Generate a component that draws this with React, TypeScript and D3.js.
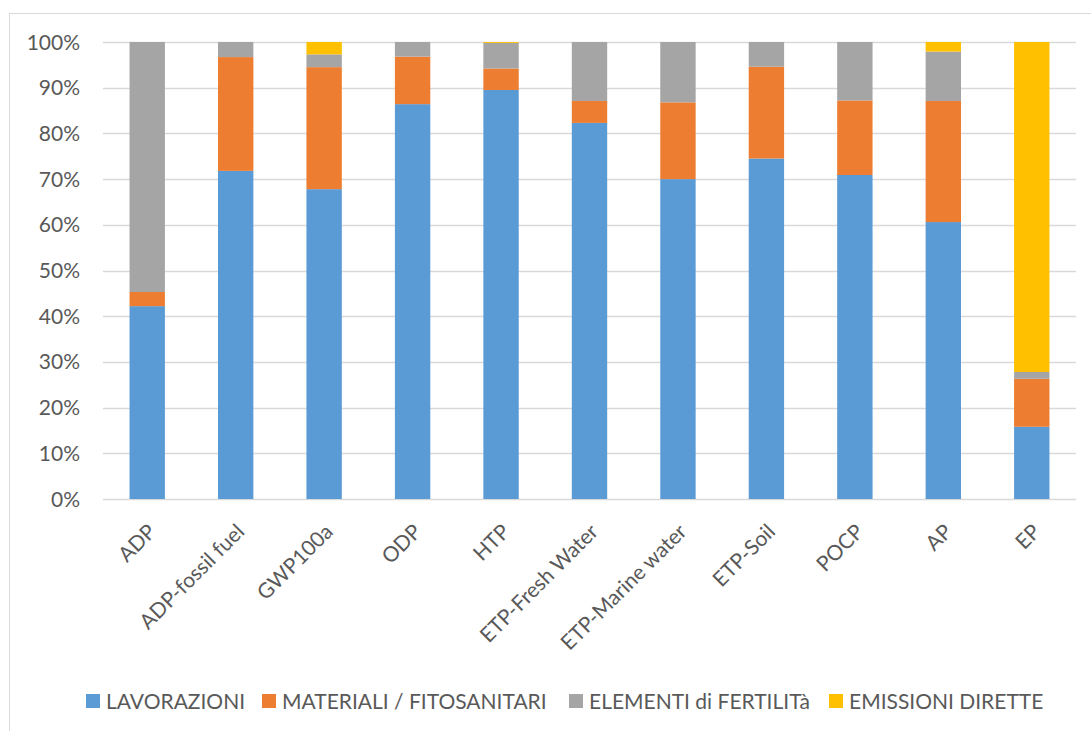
import React, { useRef, useEffect } from 'react';
import * as d3 from 'd3';

const categories = ['ADP', 'ADP-fossil fuel', 'GWP100a', 'ODP', 'HTP', 'ETP-Fresh Water', 'ETP-Marine water', 'ETP-Soil', 'POCP', 'AP', 'EP'];
const seriesNames = ['LAVORAZIONI', 'MATERIALI / FITOSANITARI', 'ELEMENTI di FERTILITà', 'EMISSIONI DIRETTE'];
const lavorazioni = [42.2, 71.8, 67.8, 86.4, 89.5, 82.3, 70.0, 74.5, 70.9, 60.6, 15.8];
const materiali = [3.1, 24.9, 26.7, 10.4, 4.7, 4.8, 16.8, 20.1, 16.3, 26.5, 10.5];
const elementi = [54.7, 3.3, 2.8, 3.2, 5.6, 12.9, 13.2, 5.4, 12.8, 10.8, 1.5];
const emissioni = [0, 0, 2.7, 0, 0.2, 0, 0, 0, 0, 2.1, 72.2];
const yTicks = [0, 10, 20, 30, 40, 50, 60, 70, 80, 90, 100];
const colors = ['#5B9BD5', '#ED7D31', '#A5A5A5', '#FFC000'];

const FONT = 'Lato, "Open Sans", sans-serif';

const App = () => {
    const ref = useRef<SVGSVGElement>(null);

    useEffect(() => {
        const svg = d3.select(ref.current)
            .attr('width', 1091)
            .attr('height', 731);

        svg.selectAll('*').remove();

        svg.append('rect')
            .attr('x', 9.5).attr('y', 13.5)
            .attr('width', 1100).attr('height', 740)
            .attr('fill', '#fff')
            .attr('stroke', '#d9d9d9');

        const left = 103, right = 1076, top = 42, bottom = 499;

        const x = d3.scaleBand()
            .domain(categories)
            .range([left, right])
            .paddingInner(0.6)
            .paddingOuter(0.3);

        const y = d3.scaleLinear()
            .domain([0, 100])
            .range([bottom, top]);

        // gridlines
        svg.append('g')
            .selectAll('line')
            .data(yTicks)
            .enter().append('line')
            .attr('x1', left).attr('x2', right)
            .attr('y1', d => Math.round(y(d)) + 0.5)
            .attr('y2', d => Math.round(y(d)) + 0.5)
            .attr('stroke', '#d9d9d9')
            .attr('stroke-width', 1.3);

        // y labels
        svg.append('g')
            .selectAll('text')
            .data(yTicks)
            .enter().append('text')
            .attr('x', 80)
            .attr('y', d => y(d))
            .attr('dy', '0.36em')
            .attr('text-anchor', 'end')
            .attr('font-family', FONT)
            .attr('font-size', 21)
            .attr('fill', '#595959')
            .text(d => `${d}%`);

        // stacked bars
        const rows = categories.map((c, i) => ({
            cat: c,
            s0: lavorazioni[i], s1: materiali[i], s2: elementi[i], s3: emissioni[i]
        }));
        const stack = d3.stack<any>().keys(['s0', 's1', 's2', 's3']);
        const layers = stack(rows);

        svg.append('g')
            .selectAll('g')
            .data(layers)
            .enter().append('g')
            .attr('fill', (_, i) => colors[i])
            .selectAll('rect')
            .data(d => d)
            .enter().append('rect')
            .attr('x', d => x(d.data.cat)!)
            .attr('y', d => y(d[1]))
            .attr('width', x.bandwidth())
            .attr('height', d => Math.max(0, y(d[0]) - y(d[1])));

        // x labels, rotated
        svg.append('g')
            .selectAll('text')
            .data(categories)
            .enter().append('text')
            .attr('transform', d => `translate(${x(d)! + x.bandwidth() / 2 + 10},${bottom + 34}) rotate(-45)`)
            .attr('text-anchor', 'end')
            .attr('font-family', FONT)
            .attr('font-size', 21)
            .attr('fill', '#595959')
            .text(d => d);

        // legend
        const legendX = [86, 262, 569, 829];
        const legend = svg.append('g')
            .selectAll('g')
            .data(seriesNames)
            .enter().append('g')
            .attr('transform', (_, i) => `translate(${legendX[i]},701)`);
        legend.append('rect')
            .attr('x', 0).attr('y', -7)
            .attr('width', 14).attr('height', 14)
            .attr('fill', (_, i) => colors[i]);
        legend.append('text')
            .attr('x', 20)
            .attr('dy', '0.36em')
            .attr('font-family', FONT)
            .attr('font-size', 21)
            .attr('fill', '#595959')
            .text(d => d);
    }, []);

    return (
        <svg ref={ref} style={{ position: 'absolute', left: 0, top: 0 }}></svg>
    );
};

export default App;
